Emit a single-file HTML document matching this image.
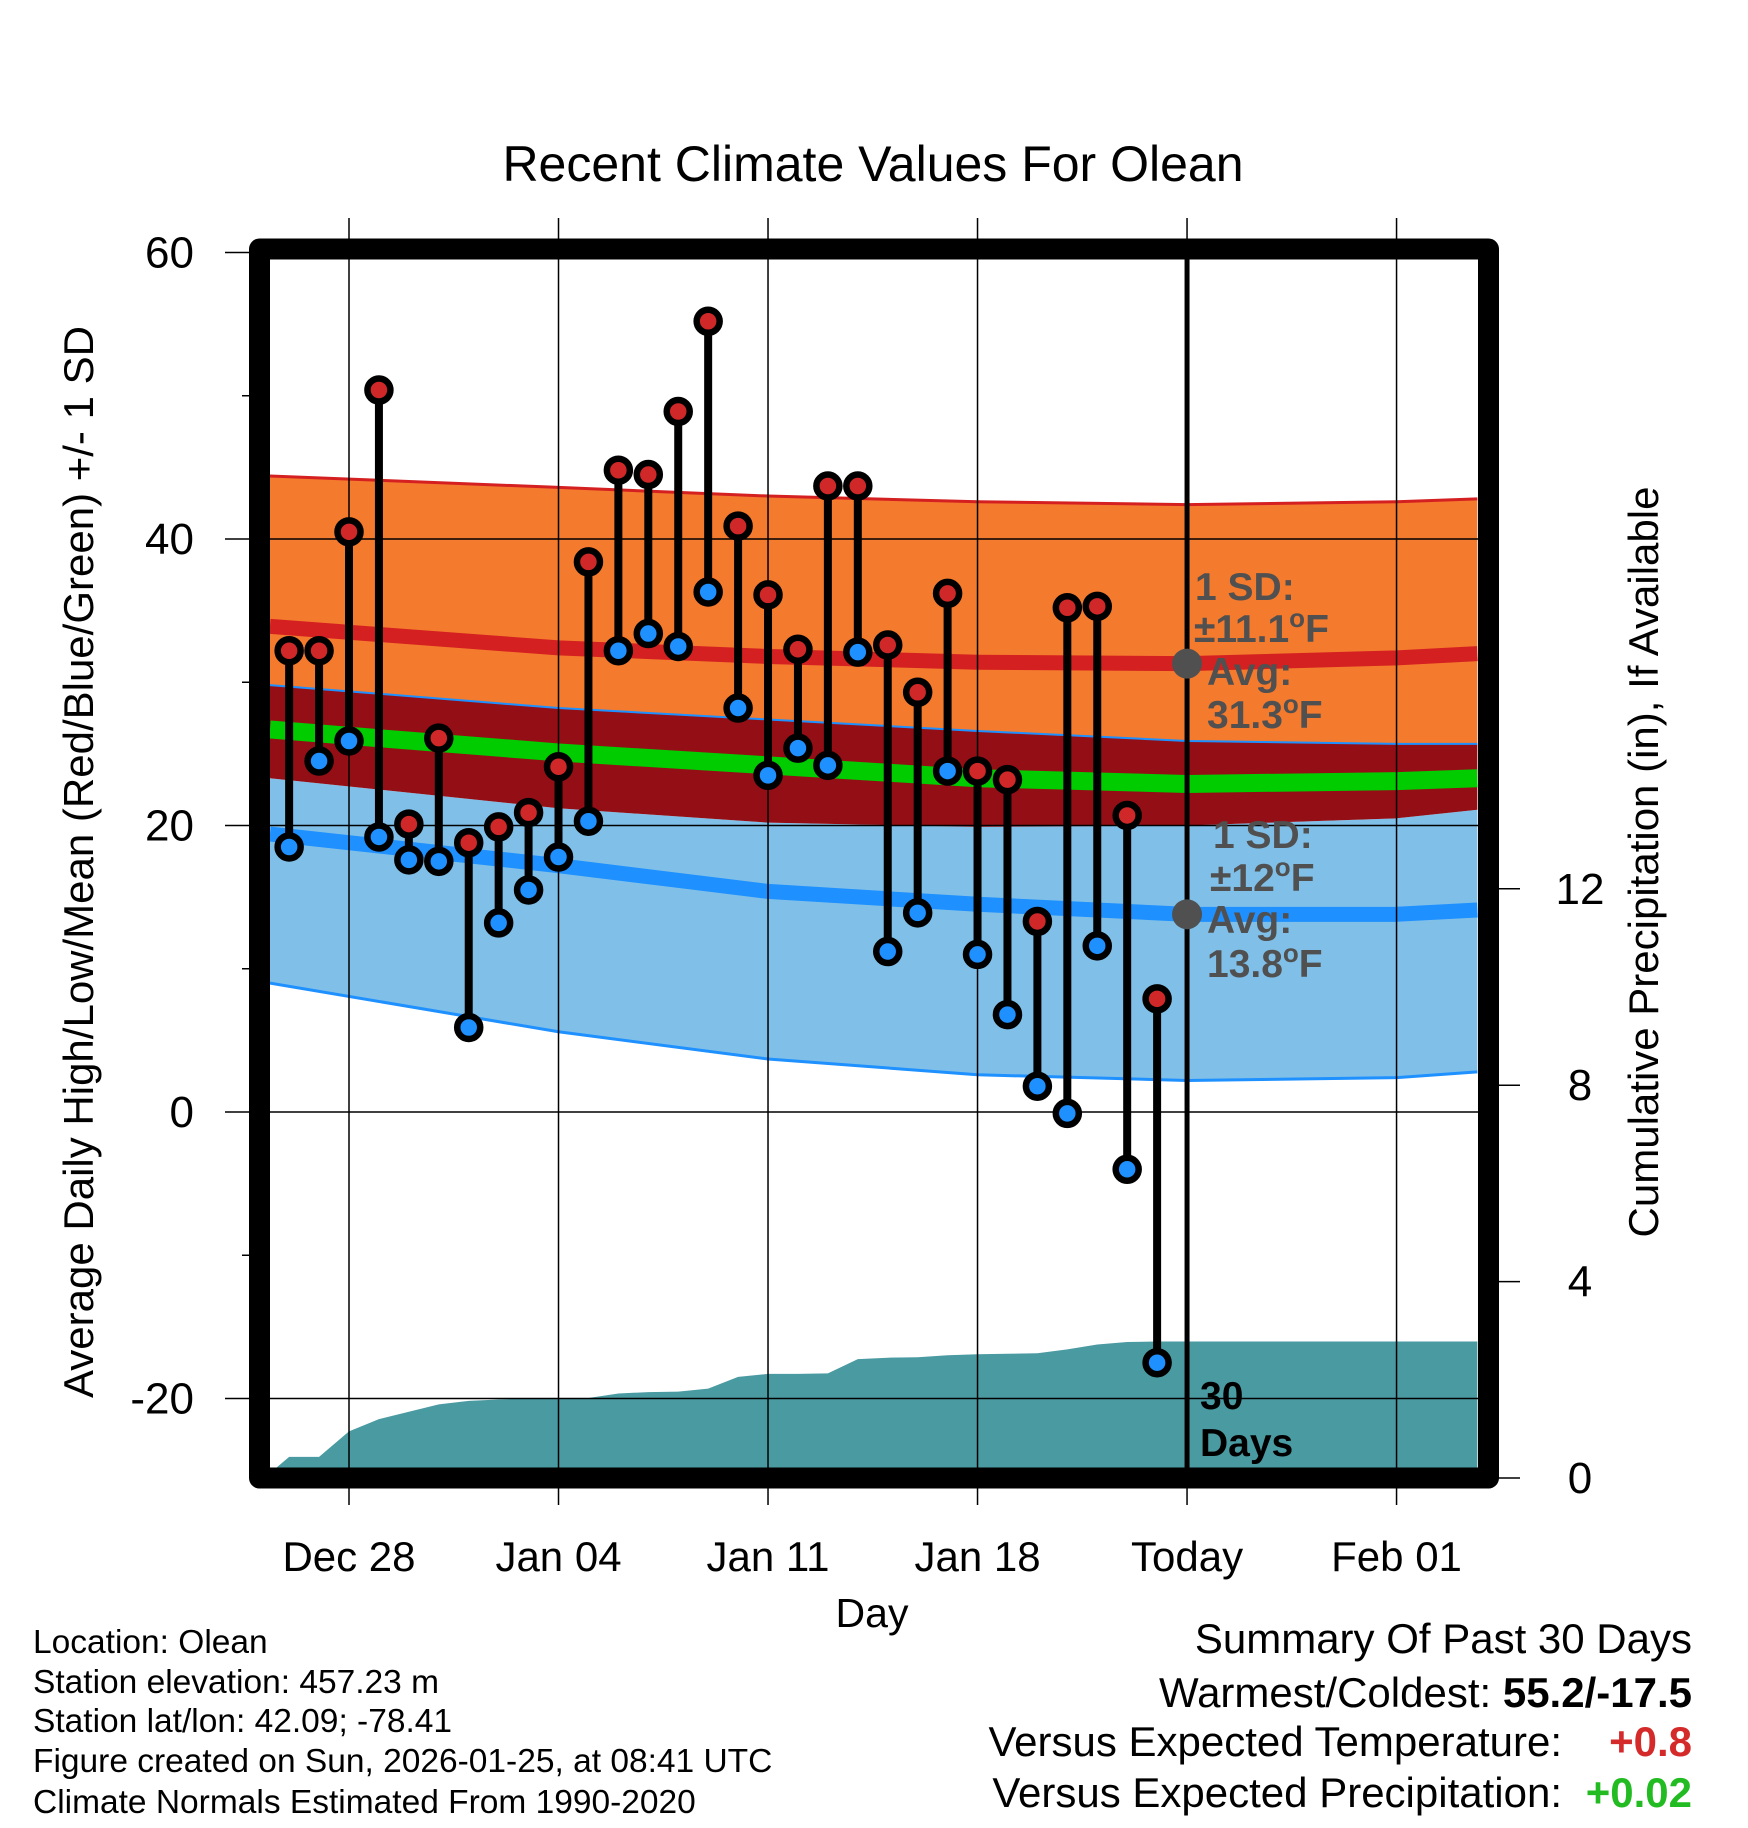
<!DOCTYPE html>
<html><head><meta charset="utf-8"><style>
html,body{margin:0;padding:0;background:#fff;}
svg{display:block;font-family:"Liberation Sans",Arial,sans-serif;}
</style></head><body>
<svg id="chart" width="1748" height="1828" viewBox="0 0 1748 1828" xmlns="http://www.w3.org/2000/svg">
<defs><clipPath id="plotclip"><rect x="270" y="260" width="1208" height="1208"/></clipPath></defs>
<rect width="1748" height="1828" fill="#fff"/>
<g id="bands" clip-path="url(#plotclip)"></g>
<g id="grid"></g>
<g id="marks"></g>
<rect x="259.5" y="249" width="1229" height="1229" fill="none" stroke="#000" stroke-width="21" stroke-linejoin="round"/>
<g id="labels"></g>
<text x="873" y="181" font-size="50" text-anchor="middle">Recent Climate Values For Olean</text>
<text x="872" y="1627" font-size="41" text-anchor="middle">Day</text>
<text transform="translate(93,862) rotate(-90)" font-size="42" text-anchor="middle">Average Daily High/Low/Mean (Red/Blue/Green) +/- 1 SD</text>
<text transform="translate(1658,862) rotate(-90)" font-size="42" text-anchor="middle">Cumulative Precipitation (in), If Available</text>
<g font-size="33.5">
<text x="33" y="1653">Location: Olean</text>
<text x="33" y="1693">Station elevation: 457.23 m</text>
<text x="33" y="1732">Station lat/lon: 42.09; -78.41</text>
<text x="33" y="1772">Figure created on Sun, 2026-01-25, at 08:41 UTC</text>
<text x="33" y="1813">Climate Normals Estimated From 1990-2020</text>
</g>
<g font-size="42">
<text x="1692" y="1653" text-anchor="end">Summary Of Past 30 Days</text>
<text x="1692" y="1707" text-anchor="end">Warmest/Coldest: <tspan font-weight="bold">55.2/-17.5</tspan></text>
<text x="1562" y="1756" text-anchor="end">Versus Expected Temperature:</text>
<text x="1692" y="1756" text-anchor="end" font-weight="bold" fill="#d42a2a">+0.8</text>
<text x="1562" y="1807" text-anchor="end">Versus Expected Precipitation:</text>
<text x="1692" y="1807" text-anchor="end" font-weight="bold" fill="#22bb22">+0.02</text>
</g>
</svg>
<script>
// Daily observations, day index relative to Dec 28 (0)
const obsDays = [-2,-1,0,1,2,3,4,5,6,7,8,9,10,11,12,13,14,15,16,17,18,19,20,21,22,23,24,25,26,27];
const highs = [32.2,32.2,40.5,50.4,20.1,26.1,18.8,19.9,20.9,24.1,38.4,44.8,44.5,48.9,55.2,40.9,36.1,32.3,43.7,43.7,32.6,29.3,36.2,23.8,23.2,13.3,35.2,35.3,20.7,7.9];
const lows = [18.5,24.5,25.9,19.2,17.6,17.5,5.9,13.2,15.5,17.8,20.3,32.2,33.4,32.5,36.3,28.2,23.5,25.4,24.2,32.1,11.2,13.9,23.8,11.0,6.8,1.8,-0.1,11.6,-4.0,-17.5];
const precip = [0.43,0.43,0.95,1.2,1.35,1.5,1.57,1.6,1.62,1.62,1.63,1.72,1.75,1.76,1.82,2.06,2.12,2.12,2.13,2.42,2.45,2.46,2.5,2.52,2.53,2.54,2.62,2.72,2.77,2.78];
// Climatology
const climDays = [-2.64,7,14,21,28,35,37.7];
const highUpper = [44.4,43.6,43.0,42.6,42.4,42.6,42.8];
const highAvg = [33.9,32.4,31.8,31.4,31.3,31.7,32.0];
const highLower = [29.8,28.2,27.4,26.6,25.9,25.7,25.7];
const meanAvg = [26.7,25.1,24.2,23.3,22.9,23.1,23.3];
const lowUpper = [23.3,21.2,20.2,19.9,20.0,20.5,21.1];
const lowAvg = [19.4,17.2,15.4,14.5,13.8,13.8,14.1];
const lowLower = [9.0,5.6,3.7,2.6,2.2,2.4,2.8];
const xTickDays = [0,7,14,21,28,35];
const xTickLabels = ["Dec 28","Jan 04","Jan 11","Jan 18","Today","Feb 01"];
const yTicks = [60,40,20,0,-20];
const yMinor = [50,30,10,-10];
const pTicks = [0,4,8,12];
const todayDay = 28;

const NS="http://www.w3.org/2000/svg";
const X = d => 349 + 29.93*d;
const Y = v => 1112 - 14.325*v;
const P = p => 1478 - 49.1*p;
function mk(tag, attrs, parent){const e=document.createElementNS(NS,tag);for(const k in attrs)e.setAttribute(k,attrs[k]);parent.appendChild(e);return e;}
const bands=document.getElementById('bands'), grid=document.getElementById('grid'), marks=document.getElementById('marks'), labels=document.getElementById('labels');
function pts(arr){return climDays.map((d,i)=>X(d)+','+Y(arr[i])).join(' ');}
function area(top,bot){return pts(top)+' '+climDays.map((d,i)=>X(d)+','+Y(bot[i])).reverse().join(' ');}
let e;
e=mk('polygon',{points:area(highUpper,highLower),fill:'#f47a2e'},bands);


e=mk('polygon',{points:area(lowUpper,lowLower),fill:'#80c0e8'},bands);


e=mk('polygon',{points:area(highLower,lowUpper),fill:'#930f15'},bands);


e=mk('polyline',{points:pts(highUpper),fill:'none',stroke:'#d42020','stroke-width':3},bands);


e=mk('polyline',{points:pts(highLower),fill:'none',stroke:'#1e90ff','stroke-width':2},bands);


e=mk('polyline',{points:pts(lowLower),fill:'none',stroke:'#1e90ff','stroke-width':3},bands);


e=mk('polyline',{points:pts(highAvg),fill:'none',stroke:'#d42020','stroke-width':15},bands);


e=mk('polyline',{points:pts(lowAvg),fill:'none',stroke:'#1e90ff','stroke-width':15},bands);


e=mk('polyline',{points:pts(meanAvg),fill:'none',stroke:'#00cc00','stroke-width':18},bands);


// precip area
let pp = X(-2.64)+','+1470+' '+X(-2.64)+','+P(0.1)+' ';
obsDays.forEach((d,i)=>{pp+=X(d)+','+P(precip[i])+' ';});
pp+=X(37.7)+','+P(precip[precip.length-1])+' '+X(37.7)+',1470';
e=mk('polygon',{points:pp,fill:'#4a9aa2'},bands);


// grid
xTickDays.forEach((d,i)=>{
  e=mk('line',{x1:X(d),x2:X(d),y1:218,y2:1505,stroke:'#000','stroke-width':1.5},grid);
  
  
  e=mk('text',{x:X(d),y:1571,'font-size':42,'text-anchor':'middle'},labels);
  e.textContent=xTickLabels[i];
  
  
});
yTicks.forEach(v=>{
  e=mk('line',{x1:225,x2:1478,y1:Y(v),y2:Y(v),stroke:'#000','stroke-width':1.5},grid);
  
  
  e=mk('text',{x:194,y:Y(v)+15,'font-size':44,'text-anchor':'end'},labels);
  e.textContent=String(v);
  
  
});
yMinor.forEach(v=>{
  e=mk('line',{x1:242,x2:252,y1:Y(v),y2:Y(v),stroke:'#000','stroke-width':1.5},grid);
  
  
});
pTicks.forEach(p=>{
  e=mk('line',{x1:1490,x2:1520,y1:P(p),y2:P(p),stroke:'#000','stroke-width':1.5},grid);
  
  
  e=mk('text',{x:1580,y:P(p)+15,'font-size':44,'text-anchor':'middle'},labels);
  e.textContent=String(p);
  
  
});
// today line
e=mk('line',{x1:X(todayDay),x2:X(todayDay),y1:255,y2:1470,stroke:'#000','stroke-width':5},marks);


// annotation dots
const ti = climDays.indexOf(todayDay);
e=mk('circle',{cx:X(todayDay),cy:Y(highAvg[ti]),r:15,fill:'#505050'},marks);


e=mk('circle',{cx:X(todayDay),cy:Y(lowAvg[ti]),r:15,fill:'#505050'},marks);


// stems and dots
obsDays.forEach((d,i)=>{
  e=mk('line',{x1:X(d),x2:X(d),y1:Y(highs[i]),y2:Y(lows[i]),stroke:'#000','stroke-width':8},marks);
  
  
});
obsDays.forEach((d,i)=>{
  e=mk('circle',{cx:X(d),cy:Y(highs[i]),r:11.5,fill:'#d02828',stroke:'#000','stroke-width':6.5},marks);
  
  
  e=mk('circle',{cx:X(d),cy:Y(lows[i]),r:11.5,fill:'#1e90ff',stroke:'#000','stroke-width':6.5},marks);
  
  
});
// annotation text
function ann(lines, name){
  lines.forEach(l=>{
    e=mk('text',{x:l[0],y:l[1],'font-size':39,'font-weight':'bold',fill:'#505050'},labels);
    
    
    if(l[3]){e.appendChild(document.createTextNode(l[2]));const s=mk('tspan',{'font-size':26,dy:-15},e);s.textContent='o';const s2=mk('tspan',{dy:15},e);s2.textContent='F';}
    else e.textContent=l[2];
  });
}
ann([[1195,600,'1 SD:'],[1194,642,'±11.1',1],[1207,685,'Avg:'],[1207,728,'31.3',1]],'high-sd-annotation');
ann([[1213,848,'1 SD:'],[1210,891,'±12',1],[1207,933,'Avg:'],[1207,977,'13.8',1]],'low-sd-annotation');
e=mk('text',{x:1200,y:1409,'font-size':39,'font-weight':'bold'},labels);
e.textContent='30';


e=mk('text',{x:1200,y:1456,'font-size':39,'font-weight':'bold'},labels);
e.textContent='Days';


</script>
</body></html>
